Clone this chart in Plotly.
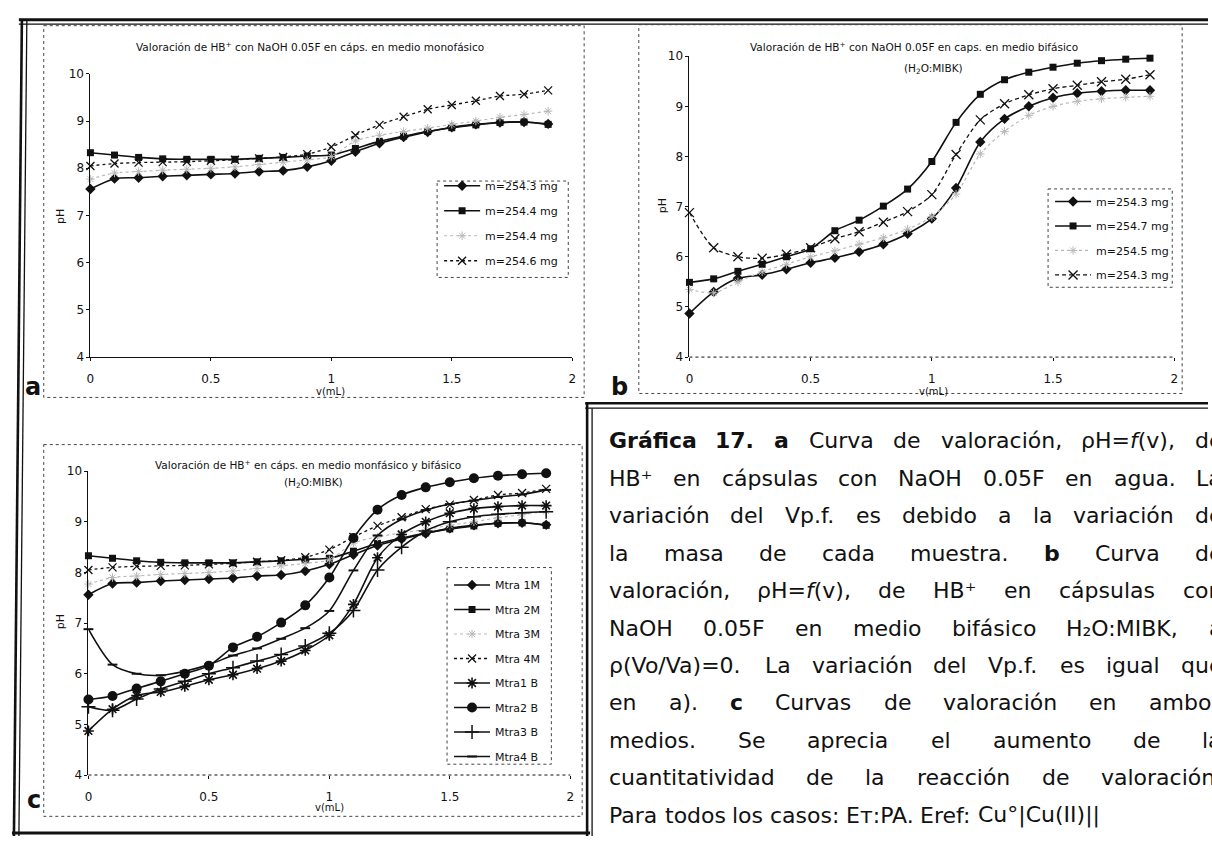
import re
import plotly.graph_objects as go

W, H = 1212, 843
def X(px): return px / W
def Y(py): return 1 - py / H

# ---------------- data ----------------
v_ml = [0.0, 0.1, 0.2, 0.3, 0.4, 0.5, 0.6, 0.7, 0.8, 0.9,
        1.0, 1.1, 1.2, 1.3, 1.4, 1.5, 1.6, 1.7, 1.8, 1.9]

# panel a (monophasic)
a_m2543 = [7.56, 7.78, 7.80, 7.83, 7.85, 7.87, 7.89, 7.93, 7.95, 8.03,
           8.16, 8.35, 8.53, 8.66, 8.77, 8.87, 8.93, 8.97, 8.98, 8.94]
a_m2544 = [8.33, 8.28, 8.23, 8.20, 8.19, 8.19, 8.19, 8.21, 8.23, 8.26,
           8.28, 8.42, 8.57, 8.68, 8.78, 8.86, 8.92, 8.97, 8.98, 8.93]
a_m2544b = [7.77, 7.90, 7.93, 7.96, 7.98, 8.00, 8.03, 8.08, 8.13, 8.18,
            8.25, 8.58, 8.70, 8.78, 8.85, 8.93, 9.00, 9.08, 9.14, 9.21]
a_m2546 = [8.05, 8.10, 8.12, 8.13, 8.14, 8.16, 8.18, 8.21, 8.24, 8.30,
           8.45, 8.70, 8.92, 9.09, 9.25, 9.34, 9.43, 9.53, 9.57, 9.65]
a_names = ["m=254.3 mg", "m=254.4 mg", "m=254.4 mg", "m=254.6 mg"]

# panel b (biphasic)
b_m2543 = [4.87, 5.30, 5.57, 5.64, 5.75, 5.88, 5.98, 6.10, 6.25, 6.46,
           6.76, 7.37, 8.29, 8.75, 9.00, 9.17, 9.26, 9.30, 9.32, 9.32]
b_m2547 = [5.49, 5.56, 5.71, 5.85, 6.00, 6.16, 6.52, 6.73, 7.01, 7.35,
           7.90, 8.68, 9.24, 9.53, 9.68, 9.78, 9.86, 9.91, 9.94, 9.96]
b_m2545 = [5.35, 5.28, 5.50, 5.70, 5.85, 6.00, 6.12, 6.25, 6.38, 6.55,
           6.80, 7.25, 8.05, 8.50, 8.82, 9.00, 9.10, 9.15, 9.18, 9.20]
b_m2543x = [6.88, 6.18, 6.00, 5.97, 6.05, 6.18, 6.36, 6.50, 6.69, 6.90,
            7.24, 8.04, 8.73, 9.05, 9.23, 9.35, 9.42, 9.49, 9.54, 9.63]
b_names = ["m=254.3 mg", "m=254.7 mg", "m=254.5 mg", "m=254.3 mg"]

c_names = ["Mtra 1M", "Mtra 2M", "Mtra 3M", "Mtra 4M",
           "Mtra1 B", "Mtra2 B", "Mtra3 B", "Mtra4 B"]

x_ticks = [0, 0.5, 1, 1.5, 2]
x_ticktext = ["0", "0.5", "1", "1.5", "2"]
y_ticks = [4, 5, 6, 7, 8, 9, 10]

FONT = "DejaVu Sans"
BLACK = "#111111"
LIGHT = "#b8b8b8"

# ---------------- styles ----------------
st_diamond = dict(line=dict(color=BLACK, width=1.6),
                  marker=dict(symbol="diamond", size=8, color=BLACK))
st_square = dict(line=dict(color=BLACK, width=1.6),
                 marker=dict(symbol="square", size=7, color=BLACK))
st_light = dict(line=dict(color=LIGHT, width=1.2, dash="dot"),
                marker=dict(symbol="asterisk-open", size=7,
                            line=dict(color=LIGHT, width=1)))
st_x = dict(line=dict(color=BLACK, width=1.3, dash="dot"),
            marker=dict(symbol="x-thin-open", size=8,
                        line=dict(color=BLACK, width=1.3)))
st_xdash = dict(line=dict(color=BLACK, width=1.3, dash="4px,3px"),
                marker=dict(symbol="x-thin-open", size=9,
                            line=dict(color=BLACK, width=1.3)))
st_ast = dict(line=dict(color=BLACK, width=1.6),
              marker=dict(symbol="asterisk-open", size=9,
                          line=dict(color=BLACK, width=1.6)))
st_circle = dict(line=dict(color=BLACK, width=1.6),
                 marker=dict(symbol="circle", size=10, color=BLACK))
st_plus = dict(line=dict(color=BLACK, width=1.6),
               marker=dict(symbol="cross-thin-open", size=10,
                           line=dict(color=BLACK, width=1.5)))
st_dash = dict(line=dict(color=BLACK, width=1.6),
               marker=dict(symbol="line-ew-open", size=7,
                           line=dict(color=BLACK, width=2)))

fig = go.Figure()

def add(ys, name, style, xa, ya, leg, grp):
    fig.add_trace(go.Scatter(
        x=v_ml, y=ys, name=name, mode="lines+markers",
        line=dict(shape="spline", smoothing=0.8, **style["line"]),
        marker=style["marker"], xaxis=xa, yaxis=ya, legend=leg,
        legendgroup=grp, cliponaxis=False))

# panel a
for i, (ys, st) in enumerate(zip([a_m2543, a_m2544, a_m2544b, a_m2546],
                                 [st_diamond, st_square, st_light, st_x])):
    add(ys, a_names[i], st, "x", "y", "legend", f"a{i}")
# panel b
for i, (ys, st) in enumerate(zip([b_m2543, b_m2547, b_m2545, b_m2543x],
                                 [st_diamond, st_square, st_light, st_xdash])):
    add(ys, b_names[i], st, "x2", "y2", "legend2", f"b{i}")
# panel c
c_series = [a_m2543, a_m2544, a_m2544b, a_m2546,
            b_m2543, b_m2547, b_m2545, b_m2543x]
c_styles = [st_diamond, st_square, st_light, st_x,
            st_ast, st_circle, st_plus, st_dash]
for i, (ys, st) in enumerate(zip(c_series, c_styles)):
    add(ys, c_names[i], st, "x3", "y3", "legend3", f"c{i}")

# ---------------- axes ----------------
def xax(dom, anchor, showline=True):
    return dict(domain=[X(dom[0]), X(dom[1])], range=[0, 2], anchor=anchor,
                tickvals=x_ticks, ticktext=x_ticktext,
                showgrid=False, zeroline=False, showline=showline,
                linecolor=BLACK, linewidth=1, ticks="outside", ticklen=3,
                tickcolor=BLACK, ticklabelstandoff=8,
                tickfont=dict(size=12, family=FONT, color=BLACK))

def yax(dom, anchor):
    return dict(domain=[Y(dom[0]), Y(dom[1])], range=[4, 10], anchor=anchor,
                tickvals=y_ticks, showgrid=False, zeroline=False,
                showline=True, linecolor=BLACK, linewidth=1,
                ticks="outside", ticklen=3, tickcolor=BLACK,
                tickfont=dict(size=12, family=FONT, color=BLACK))

def leg(px, py, gap):
    return dict(x=X(px), y=Y(py), xanchor="left", yanchor="top",
                bgcolor="rgba(0,0,0,0)", borderwidth=0,
                font=dict(size=11, family=FONT, color=BLACK),
                itemwidth=36, tracegroupgap=gap, traceorder="grouped")

shapes = []
def seg(x0, y0, x1, y1, w=1.0, dash="solid", color=BLACK):
    shapes.append(dict(type="line", xref="paper", yref="paper",
                       x0=X(x0), x1=X(x1), y0=Y(y0), y1=Y(y1),
                       line=dict(color=color, width=w, dash=dash)))
def box(x0, y0, x1, y1, w=1.0, dash="dot", color="#444444"):
    shapes.append(dict(type="rect", xref="paper", yref="paper",
                       x0=X(x0), x1=X(x1), y0=Y(y0), y1=Y(y1),
                       line=dict(color=color, width=w, dash=dash)))

# page frame
seg(15, 13, 1212, 13, 3)
seg(15, 17.5, 1212, 17.5, 1.3)
seg(18, 13, 10, 843, 2.6)
seg(23, 13, 15, 843, 1.3)
seg(585, 403, 1212, 403, 2.6)
seg(585, 408, 1212, 408, 1.3)
seg(587, 403, 587, 843, 2.6)
seg(592, 408, 592, 843, 1.3)
seg(8, 840, 590, 840, 3)
# panel boxes
box(40, 19, 584, 397)
box(639, 18, 1186, 393)
box(40, 445, 582, 823)
# legend boxes
box(436, 177, 568, 275)
box(1051, 185, 1176, 285)
box(446, 570, 551, 770)
# dotted x axis lines for b and c
for xr, yr in [("x2 domain", "y2 domain"), ("x3 domain", "y3 domain")]:
    shapes.append(dict(type="line", xref=xr, yref=yr, x0=0, x1=1, y0=0, y1=0,
                       line=dict(color=BLACK, width=1, dash="dot")))

# ---------------- annotations ----------------
ann = []
def text(px, py, s, size=11, bold=False, angle=0, xanchor="center"):
    ann.append(dict(xref="paper", yref="paper", x=X(px), y=Y(py),
                    text=f"<b>{s}</b>" if bold else s, showarrow=False,
                    xanchor=xanchor, yanchor="middle", textangle=angle,
                    font=dict(size=size, family=FONT, color=BLACK)))

text(308, 40, "Valoración de HB<sup>+</sup> con NaOH 0.05F en cáps. en medio monofásico", 10.5)
text(916, 40, "Valoración de HB<sup>+</sup> con NaOH 0.05F en caps. en medio bifásico", 10.5)
text(936, 63, "(H<sub>2</sub>O:MIBK)", 10.5)
text(306, 465, "Valoración de HB<sup>+</sup> en cáps. en medio monfásico y bifásico", 10.5)
text(312, 484, "(H<sub>2</sub>O:MIBK)", 10.5)
for (px, py) in [(57, 213), (663, 202), (57, 625)]:
    text(px, py, "pH", 11, angle=-90)
for (px, py) in [(329, 391), (936, 391), (328, 814)]:
    text(px, py, "v(mL)", 10)
text(29, 386, "a", 24, bold=True)
text(620, 386, "b", 24, bold=True)
text(30, 806, "c", 24, bold=True)

# caption block (justified)
EM = {'a': .613, 'b': .635, 'c': .55, 'd': .635, 'e': .615, 'f': .352,
      'g': .635, 'h': .634, 'i': .278, 'j': .278, 'k': .579, 'l': .278,
      'm': .974, 'n': .634, 'o': .612, 'p': .635, 'q': .635, 'r': .411,
      's': .521, 't': .392, 'u': .634, 'v': .592, 'w': .818, 'x': .592,
      'y': .592, 'z': .525, 'A': .684, 'B': .686, 'C': .698, 'D': .77,
      'E': .632, 'F': .575, 'G': .775, 'H': .752, 'I': .295, 'K': .656,
      'L': .557, 'M': .863, 'N': .748, 'O': .787, 'P': .603, 'S': .635,
      'T': .611, 'V': .684, '.': .318, ',': .318, ':': .337, '(': .39,
      ')': .39, '=': .838, '/': .337, '+': .838, '°': .5, '|': .337,
      'ρ': .635, 'á': .613, 'é': .615, 'í': .278, 'ó': .612, ' ': .318,
      '⁺': .53, '₂': .4, 'ᴛ': .5}
for d in "0123456789":
    EM[d] = .636

def width(s, fs):
    bold = s.startswith("<b>")
    plain = re.sub(r"<[^>]+>", "", s)
    tot = sum(EM.get(ch, 0.6) for ch in plain)
    return tot * fs * (1.1 if bold else 1.0)

caption = [
    "<b>Gráfica</b> <b>17.</b> <b>a</b> Curva de valoración, ρH=<i>f</i>(v), de",
    "HB⁺ en cápsulas con NaOH 0.05F en agua. La",
    "variación del Vp.f. es debido a la variación de",
    "la masa de cada muestra. <b>b</b> Curva de",
    "valoración, ρH=<i>f</i>(v), de HB⁺ en cápsulas con",
    "NaOH 0.05F en medio bifásico H₂O:MIBK, a",
    "ρ(Vo/Va)=0. La variación del Vp.f. es igual que",
    "en a). <b>c</b> Curvas de valoración en ambos",
    "medios. Se aprecia el aumento de la",
    "cuantitatividad de la reacción de valoración.",
    "Para todos los casos: Eᴛ:PA. Eref: Cu°|Cu(II)||",
]
FS = 22
L, R = 607, 1224
y0, dy = 441, 38.1
for i, line in enumerate(caption):
    py = y0 + i * dy
    words = line.split(" ")
    ws = [width(w, FS) for w in words]
    if i == len(caption) - 1:
        gap = EM[' '] * FS
    else:
        gap = max(EM[' '] * FS, (R - L - sum(ws)) / (len(words) - 1))
    x = L
    for w, wl in zip(words, ws):
        ann.append(dict(xref="paper", yref="paper", x=X(x), y=Y(py),
                        text=w, showarrow=False, xanchor="left",
                        yanchor="middle",
                        font=dict(size=FS, family=FONT, color=BLACK)))
        x += wl + gap

fig.update_layout(
    width=W, height=H, margin=dict(l=0, r=0, t=0, b=0),
    paper_bgcolor="white", plot_bgcolor="white", showlegend=True,
    xaxis=xax((87, 572), "y"), yaxis=yax((356, 68), "x"),
    xaxis2=xax((690, 1178), "y2", showline=False), yaxis2=yax((356, 50), "x2"),
    xaxis3=xax((85, 570), "y3", showline=False), yaxis3=yax((781, 472), "x3"),
    legend=leg(438, 167, 6), legend2=leg(1053, 183, 5.5),
    legend3=leg(448, 573, 5.5),
    shapes=shapes, annotations=ann,
)

fig.write_html("out.html")
